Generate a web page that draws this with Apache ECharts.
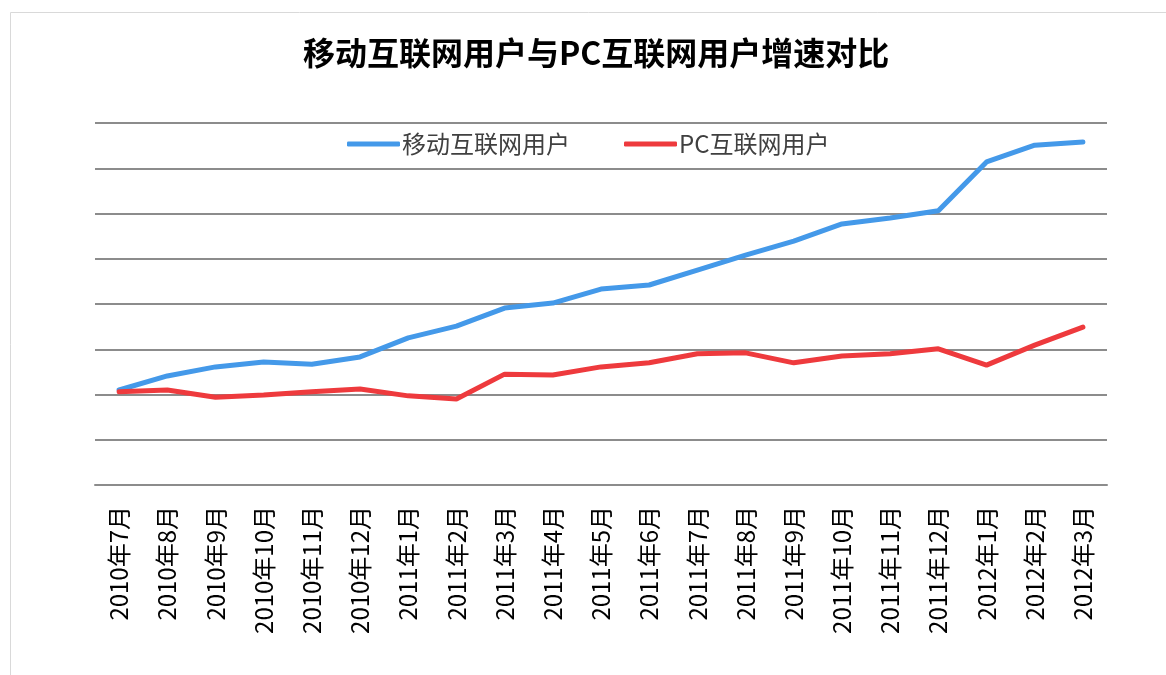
<!DOCTYPE html>
<html>
<head>
<meta charset="utf-8">
<script src="https://cdn.jsdelivr.net/npm/echarts@6/dist/echarts.min.js"></script>
<style>
  html, body { margin: 0; padding: 0; background: #fff; }
  #mychart { width: 1166px; height: 675px; }
</style>
</head>
<body>
<div id="mychart"></div>
<script>
// 月份
var months = ['2010年7月', '2010年8月', '2010年9月', '2010年10月', '2010年11月', '2010年12月',
  '2011年1月', '2011年2月', '2011年3月', '2011年4月', '2011年5月', '2011年6月',
  '2011年7月', '2011年8月', '2011年9月', '2011年10月', '2011年11月', '2011年12月',
  '2012年1月', '2012年2月', '2012年3月'];
// 移动互联网用户
var mobileUsers = [2.10, 2.41, 2.61, 2.72, 2.67, 2.83, 3.25, 3.51, 3.91, 4.02, 4.33,
  4.42, 4.75, 5.08, 5.39, 5.77, 5.90, 6.06, 7.14, 7.51, 7.58];
// PC互联网用户
var pcUsers = [2.06, 2.10, 1.94, 1.99, 2.06, 2.12, 1.97, 1.90, 2.45, 2.43, 2.61,
  2.70, 2.90, 2.92, 2.70, 2.85, 2.90, 3.01, 2.65, 3.09, 3.49];

var mychart = echarts.init(document.getElementById('mychart'));
var cjk = '"Noto Sans CJK SC", "Noto Sans", sans-serif';
var option = {
  animation: false,
  textStyle: { fontFamily: cjk },
  graphic: [{
    type: 'rect',
    shape: { x: 10.5, y: 12.5, width: 1200, height: 700 },
    style: { fill: 'none', stroke: '#d9d9d9', lineWidth: 1 }
  }],
  title: {
    text: '移动互联网用户与PC互联网用户增速对比',
    left: 298,
    top: 32,
    textStyle: { fontSize: 32, fontWeight: 'bold', color: '#000', fontFamily: cjk }
  },
  legend: {
    top: 127,
    left: 342,
    itemGap: 54,
    itemWidth: 53,
    itemHeight: 5,
    icon: 'roundRect',
    textStyle: { fontSize: 24, color: '#404040', fontFamily: cjk, padding: [0, 0, 0, -3] },
    data: ['移动互联网用户', 'PC互联网用户']
  },
  grid: { left: 95, right: 59, top: 123, bottom: 190 },
  xAxis: {
    type: 'category',
    data: months,
    boundaryGap: true,
    axisLine: { lineStyle: { color: '#8c8c8c', width: 2 } },
    axisTick: { show: false },
    axisLabel: { rotate: 90, fontSize: 24, color: '#000', margin: 21, interval: 0, fontFamily: cjk }
  },
  yAxis: {
    type: 'value',
    min: 0,
    max: 8,
    interval: 1,
    axisLabel: { show: false },
    axisLine: { show: false },
    axisTick: { show: false },
    splitLine: { lineStyle: { color: '#8c8c8c', width: 2 } }
  },
  series: [
    {
      name: '移动互联网用户',
      type: 'line',
      data: mobileUsers,
      symbol: 'none',
      color: '#4499e9',
      lineStyle: { width: 5, color: '#4499e9', cap: 'round' }
    },
    {
      name: 'PC互联网用户',
      type: 'line',
      data: pcUsers,
      symbol: 'none',
      color: '#ee3a3d',
      lineStyle: { width: 5, color: '#ee3a3d', cap: 'round' }
    }
  ]
};
mychart.setOption(option);
</script>
</body>
</html>
